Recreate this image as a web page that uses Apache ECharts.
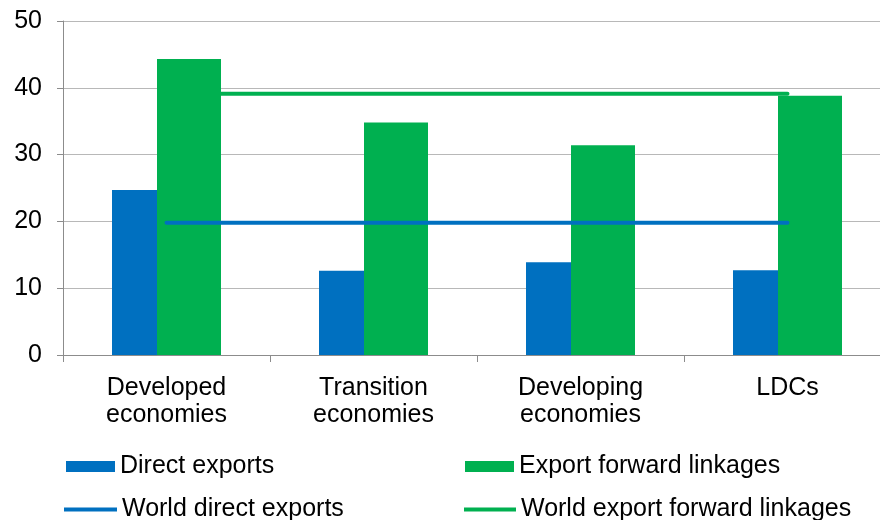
<!DOCTYPE html>
<html>
<head>
<meta charset="utf-8">
<script src="https://cdn.jsdelivr.net/npm/echarts@6/dist/echarts.min.js"></script>
<style>html,body{margin:0;padding:0;background:#fff;}#c{width:880px;height:520px;}</style>
</head>
<body>
<div id="c"></div>
<script>
const categories = ['Developed\neconomies', 'Transition\neconomies', 'Developing\neconomies', 'LDCs'];
const directExports = [24.7, 12.6, 13.9, 12.7];
const forwardLinkages = [44.3, 34.8, 31.4, 38.8];
const worldDirect = [19.8, 19.8, 19.8, 19.8];
const worldForward = [39.1, 39.1, 39.1, 39.1];
const seriesNames = ['Direct exports', 'Export forward linkages', 'World direct exports', 'World export forward linkages'];

const FONT = "'Liberation Sans', Arial, sans-serif";
const BLUE = '#0070C0';
const GREEN = '#00B050';

const chart = echarts.init(document.getElementById('c'), null, {renderer: 'canvas'});
function leg(name, left, top, w, h) {
  return {
    data: [name], left: left, top: top, padding: 0, icon: 'rect',
    itemWidth: w, itemHeight: h, selectedMode: false,
    textStyle: {fontFamily: FONT, fontSize: 25, color: '#000', padding: [0, 0, 0, 0]}
  };
}
chart.setOption({
  animation: false,
  backgroundColor: '#fff',
  grid: {left: 63, top: 21, width: 828, height: 334, containLabel: false, outerBoundsMode: 'none'},
  legend: [
    leg(seriesNames[0], 66, 454, 49, 11),
    leg(seriesNames[1], 465, 454, 49, 11),
    leg(seriesNames[2], 64, 497, 53, 4),
    leg(seriesNames[3], 464, 497, 52, 4)
  ],
  xAxis: {
    type: 'category', data: categories, boundaryGap: true,
    axisLine: {lineStyle: {color: '#8c8c8c', width: 1}},
    axisTick: {show: true, length: 7, lineStyle: {color: '#8c8c8c'}},
    axisLabel: {fontFamily: FONT, fontSize: 25, color: '#000', lineHeight: 27, margin: 20}
  },
  yAxis: {
    type: 'value', min: 0, max: 50, interval: 10,
    axisLine: {show: true, lineStyle: {color: '#8c8c8c', width: 1}},
    axisTick: {show: true, length: 6, lineStyle: {color: '#8c8c8c'}},
    splitLine: {lineStyle: {color: '#b8b8b8', width: 1}},
    axisLabel: {fontFamily: FONT, fontSize: 25, color: '#000', margin: 21}
  },
  series: [
    {name: seriesNames[0], type: 'bar', data: directExports, barWidth: 45, barGap: '0%', color: BLUE, itemStyle: {color: BLUE}},
    {name: seriesNames[1], type: 'bar', data: forwardLinkages, barWidth: 64, barGap: '0%', color: GREEN, itemStyle: {color: GREEN}},
    {name: seriesNames[2], type: 'line', data: worldDirect, symbol: 'none', color: BLUE,
     lineStyle: {color: BLUE, width: 4, cap: 'round'}, z: 5},
    {name: seriesNames[3], type: 'line', data: worldForward, symbol: 'none', color: GREEN,
     lineStyle: {color: GREEN, width: 4, cap: 'round'}, z: 5}
  ]
});
</script>
</body>
</html>
